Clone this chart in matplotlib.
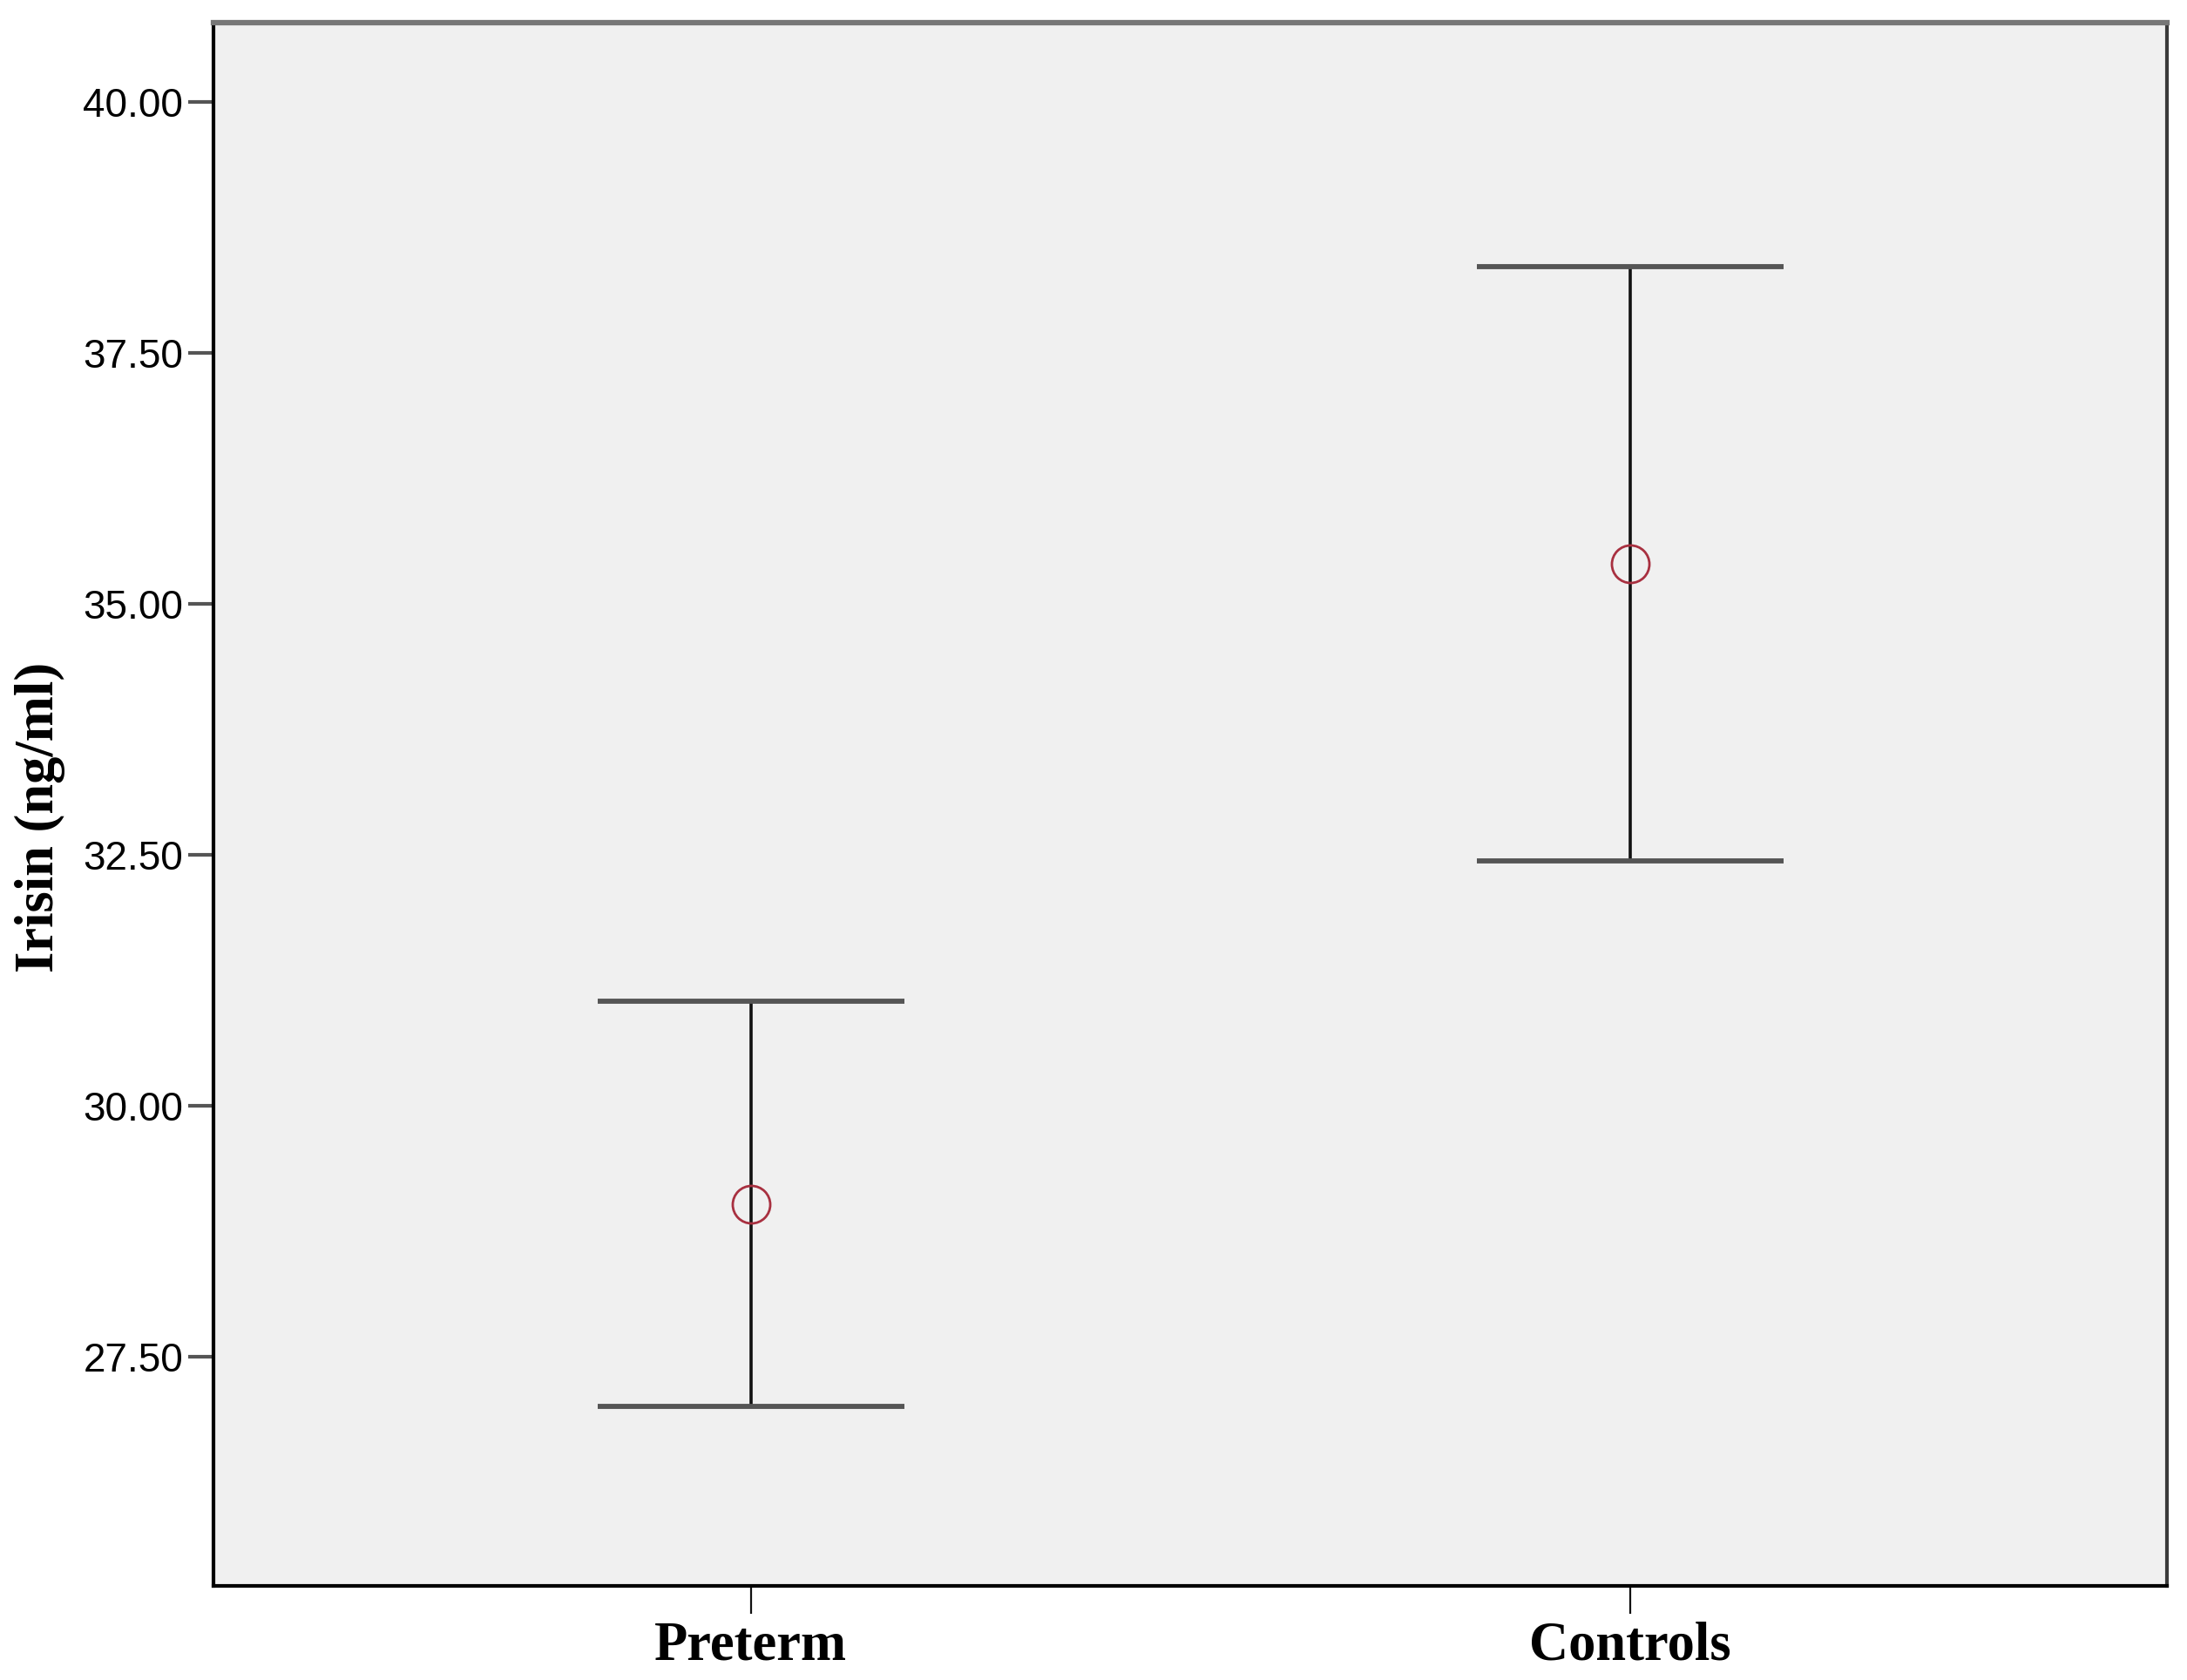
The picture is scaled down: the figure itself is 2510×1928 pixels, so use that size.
import numpy as np
import matplotlib
matplotlib.use("Agg")
import matplotlib.pyplot as plt

# data (mean and error bar ends)
groups = ["Preterm", "Controls"]
means = [29.02, 35.40]
lower = [27.01, 32.44]
upper = [31.04, 38.36]
yticks = [27.5, 30.0, 32.5, 35.0, 37.5, 40.0]

x = np.arange(len(groups))
yerr = np.array([np.array(means) - np.array(lower), np.array(upper) - np.array(means)])

fig = plt.figure(figsize=(25.10, 19.28), dpi=100)
ax = fig.add_axes([0.0976, 0.056, 0.8932, 0.9305])
ax.set_facecolor("#f0f0f0")

eb = ax.errorbar(x, means, yerr=yerr, fmt="none", ecolor="#111111",
                 elinewidth=2.6, capsize=127, capthick=4.2, zorder=2)
for cap in eb[1]:
    cap.set_markeredgecolor("#555555")
ax.plot(x, means, linestyle="none", marker="o", markersize=31,
        markerfacecolor="none", markeredgecolor="#a83040",
        markeredgewidth=2.0, zorder=3)

ax.set_xlim(-0.611, 1.610)
ax.set_ylim(25.22, 40.79)
ax.set_yticks(yticks)
ax.set_yticklabels(["%.2f" % v for v in yticks], fontfamily="Liberation Sans",
                   fontsize=33)
ax.set_xticks(x)
ax.set_xticklabels(groups, fontfamily="Liberation Serif", fontweight="bold",
                   fontsize=45)

ax.tick_params(axis="y", direction="out", length=21, width=3, color="#555555",
               pad=4)
ax.tick_params(axis="x", direction="out", length=23, width=1.6, color="#111111",
               pad=6)

ax.spines["left"].set_linewidth(3)
ax.spines["left"].set_color("black")
ax.spines["bottom"].set_linewidth(3)
ax.spines["bottom"].set_color("black")
ax.spines["top"].set_linewidth(4.5)
ax.spines["top"].set_color("#777777")
ax.spines["right"].set_linewidth(3)
ax.spines["right"].set_color("#3a3a3a")

ax.set_ylabel("Irisin (ng/ml)", fontfamily="Liberation Serif",
              fontweight="bold", fontsize=45)
ax.yaxis.set_label_coords(-0.076, 0.492)

fig.savefig("out.png", dpi=100, facecolor="white")
